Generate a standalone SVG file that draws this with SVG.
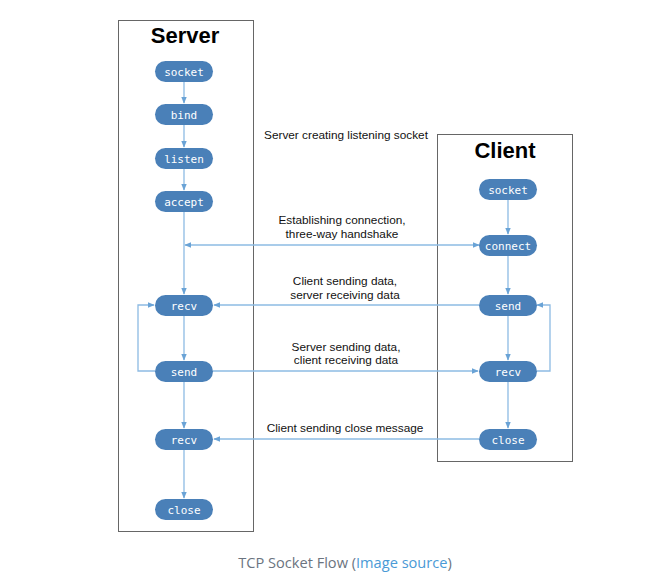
<svg xmlns="http://www.w3.org/2000/svg" width="647" height="585" viewBox="0 0 647 585">
<style>
.frame{fill:none;stroke:#666;stroke-width:1}
.title{font-family:"Liberation Sans",Arial,sans-serif;font-weight:bold;font-size:22px;fill:#000;text-anchor:middle}
.pill{fill:#4a80b8}
.nt{font-family:"DejaVu Sans Mono",monospace;font-size:11px;fill:#fff;text-anchor:middle}
.lbl{font-family:"Liberation Sans",Arial,sans-serif;font-size:11.8px;fill:#111;text-anchor:middle}
.c{fill:none;stroke:#8dbbe3;stroke-width:1.3}
.cap{font-family:"Open Sans","Noto Sans",sans-serif;font-size:14.6px;fill:#6b7480;text-anchor:middle}
</style>
<defs>
<marker id="ah" viewBox="0 0 10 10" refX="9" refY="5" markerWidth="7" markerHeight="7" orient="auto" markerUnits="userSpaceOnUse">
<path d="M0,1 L10,5 L0,9 z" fill="#6aa3d6"/>
</marker>
</defs>
<rect width="647" height="585" fill="#fff"/>
<g id="server-frame">
<rect class="frame" x="118.5" y="20.5" width="135" height="511"/>
<text class="title" x="185" y="43">Server</text>
</g>
<g id="client-frame">
<rect class="frame" x="437.5" y="134.5" width="135" height="327"/>
<text class="title" x="505" y="158">Client</text>
</g>
<g id="connectors">
<line class="c" x1="184" y1="82" x2="184" y2="103" marker-end="url(#ah)"/>
<line class="c" x1="184" y1="125" x2="184" y2="147" marker-end="url(#ah)"/>
<line class="c" x1="184" y1="169" x2="184" y2="190" marker-end="url(#ah)"/>
<line class="c" x1="184" y1="212" x2="184" y2="294" marker-end="url(#ah)"/>
<line class="c" x1="184" y1="316" x2="184" y2="360" marker-end="url(#ah)"/>
<line class="c" x1="184" y1="382" x2="184" y2="428" marker-end="url(#ah)"/>
<line class="c" x1="184" y1="450" x2="184" y2="498" marker-end="url(#ah)"/>
<line class="c" x1="508" y1="200" x2="508" y2="234" marker-end="url(#ah)"/>
<line class="c" x1="508" y1="256" x2="508" y2="294" marker-end="url(#ah)"/>
<line class="c" x1="508" y1="316" x2="508" y2="360" marker-end="url(#ah)"/>
<line class="c" x1="508" y1="382" x2="508" y2="428" marker-end="url(#ah)"/>
<line class="c" x1="330" y1="245" x2="185" y2="245" marker-end="url(#ah)"/>
<line class="c" x1="330" y1="245" x2="479" y2="245" marker-end="url(#ah)"/>
<line class="c" x1="479" y1="305" x2="214" y2="305" marker-end="url(#ah)"/>
<line class="c" x1="213" y1="371" x2="478" y2="371" marker-end="url(#ah)"/>
<line class="c" x1="479" y1="439" x2="214" y2="439" marker-end="url(#ah)"/>
<polyline class="c" points="155,371 138,371 138,305 154,305" marker-end="url(#ah)"/>
<polyline class="c" points="537,371 550,371 550,305 537,305" marker-end="url(#ah)"/>
</g>
<g id="s-socket"><rect class="pill" x="155" y="61" width="58" height="21" rx="10.5"/><text class="nt" x="184" y="75.5">socket</text></g>
<g id="s-bind"><rect class="pill" x="155" y="104" width="58" height="21" rx="10.5"/><text class="nt" x="184" y="118.5">bind</text></g>
<g id="s-listen"><rect class="pill" x="155" y="148" width="58" height="21" rx="10.5"/><text class="nt" x="184" y="162.5">listen</text></g>
<g id="s-accept"><rect class="pill" x="155" y="191" width="58" height="21" rx="10.5"/><text class="nt" x="184" y="205.5">accept</text></g>
<g id="s-recv1"><rect class="pill" x="155" y="295" width="58" height="21" rx="10.5"/><text class="nt" x="184" y="309.5">recv</text></g>
<g id="s-send"><rect class="pill" x="155" y="361" width="58" height="21" rx="10.5"/><text class="nt" x="184" y="375.5">send</text></g>
<g id="s-recv2"><rect class="pill" x="155" y="429" width="58" height="21" rx="10.5"/><text class="nt" x="184" y="443.5">recv</text></g>
<g id="s-close"><rect class="pill" x="155" y="499" width="58" height="21" rx="10.5"/><text class="nt" x="184" y="513.5">close</text></g>
<g id="c-socket"><rect class="pill" x="479" y="179" width="58" height="21" rx="10.5"/><text class="nt" x="508" y="193.5">socket</text></g>
<g id="c-connect"><rect class="pill" x="479" y="235" width="58" height="21" rx="10.5"/><text class="nt" x="508" y="249.5">connect</text></g>
<g id="c-send"><rect class="pill" x="479" y="295" width="58" height="21" rx="10.5"/><text class="nt" x="508" y="309.5">send</text></g>
<g id="c-recv"><rect class="pill" x="479" y="361" width="58" height="21" rx="10.5"/><text class="nt" x="508" y="375.5">recv</text></g>
<g id="c-close"><rect class="pill" x="479" y="429" width="58" height="21" rx="10.5"/><text class="nt" x="508" y="443.5">close</text></g>
<g id="labels">
<text class="lbl" x="346" y="139">Server creating listening socket</text>
<text class="lbl" x="342" y="224">Establishing connection,</text>
<text class="lbl" x="342" y="238">three-way handshake</text>
<text class="lbl" x="345" y="285">Client sending data,</text>
<text class="lbl" x="345" y="299">server receiving data</text>
<text class="lbl" x="346" y="351">Server sending data,</text>
<text class="lbl" x="346" y="364">client receiving data</text>
<text class="lbl" x="345" y="432">Client sending close message</text>
</g>
<text class="cap" x="345" y="568">TCP Socket Flow (<tspan fill="#4a9ad6">Image source</tspan>)</text>
</svg>
